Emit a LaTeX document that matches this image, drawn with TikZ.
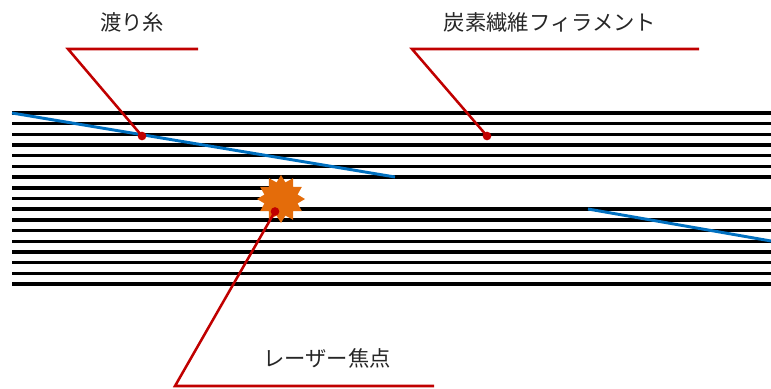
\documentclass[tikz,border=0pt]{standalone}
\usepackage{fontspec}
\setmainfont{Noto Sans CJK JP}
\usetikzlibrary{shapes.geometric}
\definecolor{cred}{HTML}{C00000}
\definecolor{cblue}{HTML}{0070C0}
\definecolor{corange}{HTML}{E46C0A}
\begin{document}
\begin{tikzpicture}[x=0.75pt,y=-0.75pt,
  fiber/.style={line width=2.6pt,black},
  yarn/.style={line width=2.2pt,cblue},
  callout/.style={line width=1.9pt,cred},
  dotmark/.style={circle,fill=cred,inner sep=0pt,minimum size=6.5pt},
  lbl/.style={font=\fontsize{16}{19}\selectfont,inner sep=0pt,text=black!85}]
\useasboundingbox (0,0) rectangle (771,389);
% fibers
\foreach \k in {0,...,6,9,10,...,16}{
  \draw[fiber] (12,{113+\k*10.69}) -- (771,{113+\k*10.69});
}
\foreach \k in {7,8}{
  \draw[fiber] (12,{113+\k*10.69}) -- (281,{113+\k*10.69});
}
% crossing yarns
\draw[yarn] (12,113) -- (395,177);
\draw[yarn] (588,209) -- (771,241);
% laser focus star
\node[star,star points=12,star point ratio=1.4,fill=corange,draw=none,minimum size=36pt,inner sep=0pt] (laser) at (281,199) {};
% dots
\node[dotmark] (d1) at (142,136) {};
\node[dotmark] (d2) at (487,136) {};
\node[dotmark] (d3) at (275,211.5) {};
% bend points
\coordinate (b1) at (68,49);
\coordinate (e1) at (198,49);
\coordinate (b2) at (412,49);
\coordinate (e2) at (699,49);
\coordinate (b3) at (175,386);
\coordinate (e3) at (434,386);
\draw[callout] (e1) -- (b1) -- (d1.center);
\draw[callout] (e2) -- (b2) -- (d2.center);
\draw[callout] (e3) -- (b3) -- (d3.center);
% labels
\node[lbl] (t1) at (132,22) {渡り糸};
\node[lbl] (t2) at (550,22) {炭素繊維フィラメント};
\node[lbl] (t3) at (327,358) {レーザー焦点};
\end{tikzpicture}
\end{document}
